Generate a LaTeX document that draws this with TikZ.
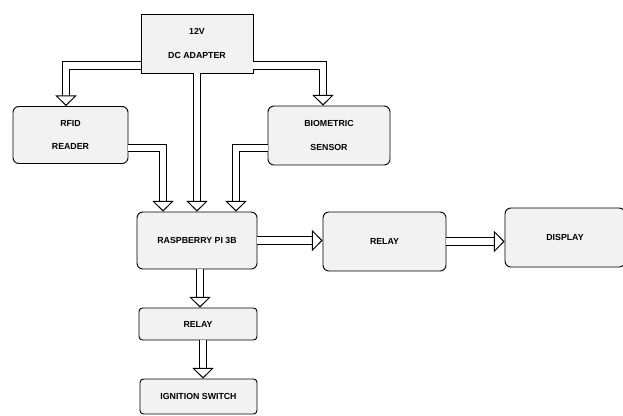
\documentclass[tikz,border=0pt]{standalone}
\usepackage{fontspec}
\setmainfont{Liberation Sans}
\usepackage{tikz}
\usetikzlibrary{arrows.meta,positioning,calc}

\tikzset{
  block/.style={draw, line width=0.8pt, fill=gray!10, align=center, inner sep=1pt,
    font=\fontsize{7.5}{9}\selectfont\bfseries},
  rblock/.style={block, rounded corners=5pt},
  feed/.style={double, double distance=5.5pt, line width=0.8pt,
    -{Triangle[open, fill=white, width=18pt, length=9pt]}},
}

\begin{document}
\begin{tikzpicture}[x=0.03cm,y=-0.03cm]
\useasboundingbox (0,0) rectangle (623,415);
% blocks
\node[block, minimum width=112*0.03cm, minimum height=59*0.03cm] (dc) at (197,43.5) {12V\\[12pt]DC ADAPTER};
\node[rblock, minimum width=115*0.03cm, minimum height=57*0.03cm] (rfid) at (70.5,135) {RFID\\[11pt]READER};
\node[rblock, minimum width=122*0.03cm, minimum height=59*0.03cm] (bio) at (329,135.5) {BIOMETRIC\\[11pt]SENSOR};
\node[rblock, minimum width=120*0.03cm, minimum height=57*0.03cm] (rpi) at (197,240.5) {RASPBERRY PI 3B};
\node[rblock, minimum width=123*0.03cm, minimum height=59*0.03cm] (relayr) at (384.5,241.5) {RELAY};
\node[rblock, minimum width=120*0.03cm, minimum height=59*0.03cm] (disp) at (565,237.5) {DISPLAY};
\node[rblock, rounded corners=3pt, minimum width=118*0.03cm, minimum height=32*0.03cm] (relayb) at (198,324) {RELAY};
\node[rblock, rounded corners=3pt, minimum width=117*0.03cm, minimum height=35*0.03cm] (ign) at (198.5,396.5) {IGNITION SWITCH};
% power lines
\draw[feed] ($(dc.west)+(0,22)$) -| ($(rfid.north)+(-4.5,0)$);
\draw[feed] ($(dc.east)+(0,22)$) -| ($(bio.north)+(-6,0)$);
\draw[feed] (dc.south) -- (dc.south |- rpi.north);
% inputs to the pi
\draw[feed] ($(rfid.east)+(0,13)$) -| ($(rpi.north)+(-34,0)$);
\draw[feed] ($(bio.west)+(0,12.5)$) -| ($(rpi.north)+(39,0)$);
% outputs
\draw[feed] (rpi.east) -- (rpi.east -| relayr.west);
\draw[feed] (relayr.east) -- (relayr.east -| disp.west);
\draw[feed] ($(rpi.south)+(3,0)$) -- ($(relayb.north)+(2,0)$);
\draw[feed] ($(relayb.south)+(5,0)$) -- ($(ign.north)+(4.5,0)$);
\end{tikzpicture}
\end{document}
